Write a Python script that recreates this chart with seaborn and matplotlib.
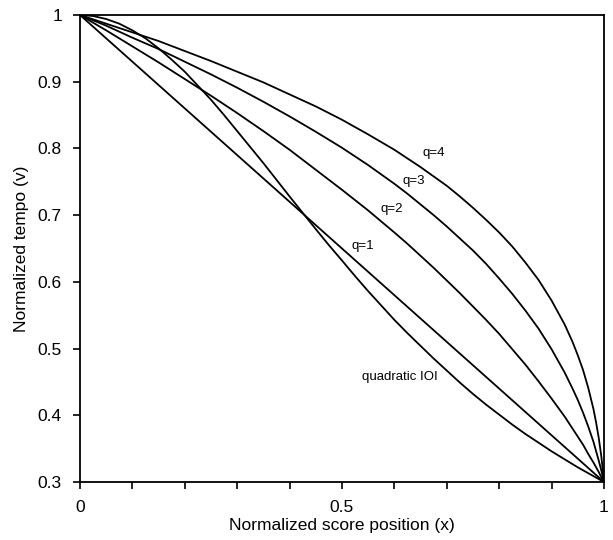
import pandas as pd
import matplotlib
matplotlib.use('Agg')
import matplotlib.pyplot as plt
import seaborn as sns

# Posições normalizadas na partitura (x) para as curvas q
posicao = [0, 0.05, 0.1, 0.15, 0.2, 0.25, 0.3, 0.35, 0.4, 0.45, 0.5, 0.55, 0.6,
           0.625, 0.65, 0.675, 0.7, 0.725, 0.75, 0.775, 0.8, 0.825, 0.85, 0.875,
           0.9, 0.925, 0.94, 0.95, 0.96, 0.97, 0.98, 0.985, 0.99, 0.995, 1]

# Tempo normalizado (v) para cada curva
tempo_q1 = [1.0, 0.965, 0.93, 0.895, 0.86, 0.825, 0.79, 0.755, 0.72, 0.685, 0.65,
            0.615, 0.58, 0.5625, 0.545, 0.5275, 0.51, 0.4925, 0.475, 0.4575, 0.44,
            0.4225, 0.405, 0.3875, 0.37, 0.3525, 0.342, 0.335, 0.328, 0.321, 0.314,
            0.3105, 0.307, 0.3035, 0.3]
tempo_q2 = [1.0, 0.977, 0.953, 0.929, 0.904, 0.879, 0.853, 0.826, 0.798, 0.768,
            0.738, 0.707, 0.674, 0.657, 0.639, 0.621, 0.602, 0.583, 0.563, 0.543,
            0.522, 0.499, 0.476, 0.451, 0.425, 0.398, 0.380, 0.368, 0.356, 0.342,
            0.329, 0.322, 0.315, 0.307, 0.3]
tempo_q3 = [1.0, 0.984, 0.966, 0.949, 0.930, 0.911, 0.891, 0.870, 0.848, 0.825,
            0.801, 0.775, 0.747, 0.732, 0.716, 0.700, 0.683, 0.665, 0.647, 0.627,
            0.605, 0.582, 0.557, 0.530, 0.499, 0.464, 0.440, 0.423, 0.404, 0.383,
            0.360, 0.346, 0.332, 0.317, 0.3]
tempo_q4 = [1.0, 0.987, 0.974, 0.961, 0.946, 0.931, 0.915, 0.899, 0.881, 0.863,
            0.843, 0.821, 0.798, 0.785, 0.772, 0.758, 0.744, 0.728, 0.711, 0.693,
            0.674, 0.653, 0.629, 0.603, 0.572, 0.536, 0.510, 0.490, 0.468, 0.441,
            0.409, 0.389, 0.366, 0.338, 0.3]

# Curva de IOI quadrático (amostrada em outra grade)
posicao_ioi = [0, 0.025, 0.05, 0.075, 0.1, 0.125, 0.15, 0.175, 0.2, 0.225, 0.25,
               0.275, 0.3, 0.325, 0.35, 0.375, 0.4, 0.425, 0.45, 0.475, 0.5,
               0.525, 0.55, 0.575, 0.6, 0.625, 0.65, 0.675, 0.7, 0.725, 0.75,
               0.775, 0.8, 0.825, 0.85, 0.875, 0.9, 0.95, 1]
tempo_ioi = [1.0, 0.9985, 0.994, 0.987, 0.977, 0.965, 0.950, 0.933, 0.915, 0.894,
             0.873, 0.850, 0.826, 0.802, 0.778, 0.753, 0.728, 0.7035, 0.679, 0.655,
             0.632, 0.6086, 0.586, 0.5645, 0.543, 0.523, 0.504, 0.485, 0.467, 0.449,
             0.432, 0.416, 0.401, 0.386, 0.372, 0.359, 0.346, 0.322, 0.3]

curvas = {'q=1': (posicao, tempo_q1), 'q=2': (posicao, tempo_q2),
          'q=3': (posicao, tempo_q3), 'q=4': (posicao, tempo_q4),
          'quadratic IOI': (posicao_ioi, tempo_ioi)}

# Monta o DataFrame em formato longo
df = pd.concat([pd.DataFrame({'x': xs, 'v': vs, 'curva': nome})
                for nome, (xs, vs) in curvas.items()], ignore_index=True)

sns.set_style('ticks')
plt.rcParams['font.family'] = ['Liberation Sans', 'DejaVu Sans']
plt.rcParams['text.color'] = 'black'
plt.rcParams['axes.labelcolor'] = 'black'
plt.rcParams['xtick.color'] = 'black'
plt.rcParams['ytick.color'] = 'black'
plt.rcParams['axes.edgecolor'] = 'black'

fig = plt.figure(figsize=(6.13, 5.4), dpi=100)
ax = fig.add_axes([0.1305, 0.1074, 0.8548, 0.8648])

sns.lineplot(data=df, x='x', y='v', units='curva', estimator=None, sort=False,
             color='black', linewidth=1.3, ax=ax)

# Rótulos das curvas
rotulos = {'q=4': (0.676, 0.793), 'q=3': (0.636, 0.751), 'q=2': (0.595, 0.709),
           'q=1': (0.540, 0.654), 'quadratic IOI': (0.611, 0.457)}
for texto, (tx, ty) in rotulos.items():
    ax.text(tx, ty, texto, ha='center', va='center', fontsize=9.5)

ax.set_xlim(0, 1)
ax.set_ylim(0.3, 1)
ax.set_xticks([i / 10 for i in range(11)])
ax.set_xticklabels(['0', '', '', '', '', '0.5', '', '', '', '', '1'])
ax.set_yticks([0.3, 0.4, 0.5, 0.6, 0.7, 0.8, 0.9, 1.0])
ax.set_yticklabels(['0.3', '0.4', '0.5', '0.6', '0.7', '0.8', '0.9', '1'])
ax.tick_params(labelsize=12.5, length=5, width=1.2, direction='out', pad=8)
for lado in ax.spines.values():
    lado.set_linewidth(1.3)
    lado.set_visible(True)

ax.set_xlabel('Normalized score position (x)', fontsize=12.5, labelpad=2)
ax.set_ylabel('Normalized tempo (v)', fontsize=12.5, labelpad=6)

fig.savefig('out.png', dpi=100)
